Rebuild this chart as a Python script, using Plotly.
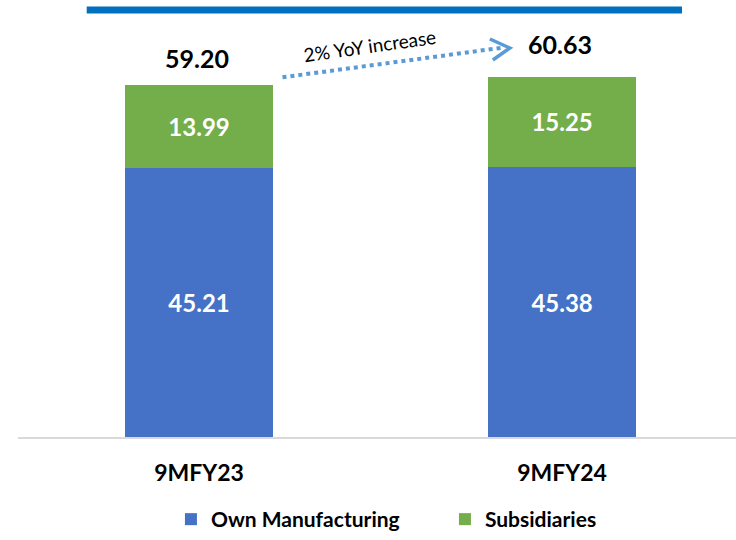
import plotly.graph_objects as go

categories = ["9MFY23", "9MFY24"]
own_manufacturing = [45.21, 45.38]
subsidiaries = [13.99, 15.25]
totals = [59.20, 60.63]
series_names = ["Own Manufacturing", "Subsidiaries"]
annotation_text = "2% YoY increase"

FONT = "Lato"
BLUE = "#4571C7"
GREEN = "#73AE4B"
ARROW = "#5B9BD5"

x = list(range(len(categories)))
bar_w = 0.4077

fig = go.Figure()
fig.add_trace(go.Bar(
    x=x, y=own_manufacturing, name=series_names[0], width=bar_w,
    marker=dict(color=BLUE, line=dict(width=0)),
    text=[f"{v:.2f}" for v in own_manufacturing], textposition="inside",
    insidetextanchor="middle",
    textfont=dict(family=FONT, size=24, color="white", weight="bold"),
))
fig.add_trace(go.Bar(
    x=x, y=subsidiaries, name=series_names[1], width=bar_w,
    marker=dict(color=GREEN, line=dict(width=0)),
    text=[f"{v:.2f}" for v in subsidiaries], textposition="inside",
    insidetextanchor="middle",
    textfont=dict(family=FONT, size=24, color="white", weight="bold"),
))

annotations = []
shifts = [27, 33]
for i, t in enumerate(totals):
    annotations.append(dict(
        x=x[i], y=t, xref="x", yref="y", text=f"{t:.2f}", showarrow=False,
        yshift=shifts[i], xshift=-2,
        font=dict(family=FONT, size=25, color="black", weight="bold"),
    ))

# YoY arrow (dotted line + chevron head)
x0 = x[0] + bar_w / 2 + 0.026
y0 = totals[0] + 1.3
x1 = x[1] - bar_w / 2 + 0.045
y1 = totals[1] + 4.9
annotations.append(dict(
    x=(x0 + x1) / 2 - 0.065, y=(y0 + y1) / 2 + 2.9, xref="x", yref="y",
    text=annotation_text, showarrow=False, textangle=-8,
    font=dict(family=FONT, size=19, color="black"),
))

shapes = [
    dict(type="line", xref="x", yref="y", x0=x0, y0=y0, x1=x1, y1=y1,
         line=dict(color=ARROW, width=4, dash="dot")),
    dict(type="path", xref="x", yref="y", xsizemode="pixel", ysizemode="pixel",
         xanchor=x1 + 0.015, yanchor=y1 - 0.1,
         path="M -20,9 L 0,0 L -17,-12",
         line=dict(color=ARROW, width=3.5)),
    dict(type="line", xref="paper", yref="paper",
         x0=0.0957, x1=0.9248, y0=1.024, y1=1.024,
         line=dict(color="#0070C0", width=7)),
]

fig.update_layout(
    barmode="stack",
    width=736, height=540,
    margin=dict(l=18, r=0, t=20, b=103),
    paper_bgcolor="white", plot_bgcolor="white",
    showlegend=True,
    legend=dict(
        orientation="h", x=0.213, xanchor="left",
        yref="container", y=-0.013, yanchor="bottom",
        font=dict(family=FONT, size=21, color="black", weight="bold"),
        itemwidth=30, entrywidth=229, entrywidthmode="pixels",
        traceorder="normal",
    ),
    annotations=annotations,
    shapes=shapes,
)
fig.update_xaxes(
    range=[-0.4986, 1.479], tickvals=x, ticktext=categories,
    showline=True, linecolor="#D9D9D9", linewidth=2,
    ticks="", ticklabelstandoff=14, showgrid=False, zeroline=False,
    tickfont=dict(family=FONT, size=23, color="black", weight="bold"),
)
fig.update_yaxes(range=[0, 70.14], visible=False, showgrid=False, zeroline=False)

fig.write_html("out.html", config={"displayModeBar": False},
               post_script="document.body.style.margin='0';document.body.style.padding='0';")
